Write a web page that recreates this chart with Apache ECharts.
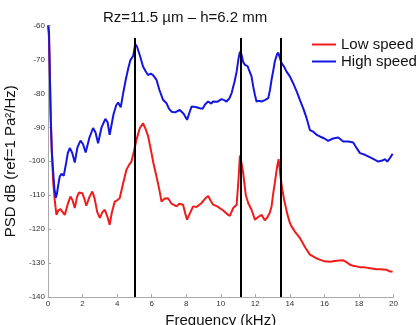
<!DOCTYPE html>
<html>
<head>
<meta charset="utf-8">
<script src="https://cdn.jsdelivr.net/npm/echarts@6/dist/echarts.min.js"></script>
<style>
  html, body { margin: 0; padding: 0; background: #fff; }
  #chart { width: 419px; height: 325px; }
</style>
</head>
<body>
<div id="chart"></div>
<script>
// frequency in kHz, PSD in dB
var lowFreq = [0, 0.05, 0.1, 0.15, 0.22, 0.3, 0.4, 0.49, 0.6, 0.72, 0.85, 0.97, 1.15, 1.3, 1.42, 1.55, 1.68, 1.8, 1.99, 2.1, 2.22, 2.4, 2.57, 2.7, 2.85, 3.0, 3.15, 3.29, 3.45, 3.57, 3.7, 3.86, 4.0, 4.15, 4.35, 4.54, 4.7, 4.83, 4.98, 5.12, 5.31, 5.5, 5.65, 5.79, 5.95, 6.1, 6.28, 6.45, 6.57, 6.75, 6.95, 7.15, 7.44, 7.6, 7.82, 7.95, 8.05, 8.2, 8.4, 8.6, 8.89, 9.1, 9.27, 9.4, 9.56, 9.8, 10.14, 10.35, 10.53, 10.72, 10.92, 11.02, 11.11, 11.2, 11.3, 11.45, 11.59, 11.78, 11.98, 12.15, 12.36, 12.55, 12.7, 12.84, 12.94, 13.05, 13.13, 13.25, 13.35, 13.45, 13.55, 13.67, 13.85, 14.0, 14.1, 14.3, 14.58, 14.9, 15.16, 15.26, 15.5, 15.74, 16.0, 16.32, 16.7, 17.09, 17.3, 17.48, 17.67, 18.06, 18.25, 18.64, 19.03, 19.22, 19.61, 19.8, 19.95];
var lowDb = [-60, -63, -72, -85, -97, -106, -112, -115.8, -114.5, -114.1, -115, -115.8, -112.5, -110.4, -111.5, -113.8, -110.5, -109.2, -109.4, -111, -113.1, -110.5, -108.9, -111, -115, -116.7, -115, -114.3, -116.5, -118.7, -115, -111.9, -111.5, -110.9, -106.5, -102.5, -101, -100.1, -97, -93.7, -90.3, -88.8, -90.5, -92.5, -96.5, -100.5, -104.5, -108.5, -111.9, -111, -110.9, -112.5, -113.3, -112.5, -112.8, -115.5, -117.2, -115.5, -113.3, -113.5, -112.3, -111, -110.2, -111.5, -112.8, -113.3, -114.5, -115.5, -116.1, -113.8, -112.8, -106, -98.3, -100.5, -103.5, -110, -112.3, -114.3, -117.2, -116.5, -115.8, -117.4, -116.5, -115.2, -113.3, -109, -106.4, -102, -99.4, -104, -108, -111.4, -115.5, -118.2, -119.2, -120.8, -122.6, -125.5, -127.5, -128, -128.5, -129, -129.5, -129.6, -129.3, -129.2, -129.8, -130.5, -130.8, -131.2, -131.2, -131.5, -131.8, -131.8, -132, -132.5, -132.5];

var highFreq = [0.02, 0.06, 0.12, 0.16, 0.22, 0.29, 0.37, 0.45, 0.52, 0.58, 0.68, 0.78, 0.91, 1.05, 1.15, 1.26, 1.4, 1.55, 1.7, 1.88, 2.03, 2.18, 2.4, 2.61, 2.75, 2.9, 3.1, 3.32, 3.45, 3.57, 3.8, 3.95, 4.06, 4.21, 4.35, 4.5, 4.65, 4.77, 4.93, 5.05, 5.15, 5.31, 5.5, 5.65, 5.79, 5.95, 6.08, 6.28, 6.45, 6.66, 6.86, 7.0, 7.15, 7.35, 7.63, 7.85, 8.05, 8.2, 8.31, 8.55, 8.79, 8.95, 9.1, 9.27, 9.45, 9.56, 9.8, 10.04, 10.2, 10.33, 10.5, 10.63, 10.8, 10.92, 11.02, 11.11, 11.2, 11.3, 11.4, 11.55, 11.65, 11.78, 11.88, 11.98, 12.07, 12.2, 12.36, 12.55, 12.75, 12.85, 12.94, 13.05, 13.13, 13.25, 13.33, 13.42, 13.52, 13.65, 13.81, 14.0, 14.19, 14.4, 14.58, 14.78, 14.97, 15.16, 15.35, 15.55, 15.74, 16.0, 16.22, 16.5, 16.8, 17.09, 17.4, 17.67, 17.85, 18.06, 18.35, 18.74, 19.12, 19.35, 19.51, 19.64, 19.8, 19.95];
var highDb = [-60, -62, -78, -88, -97, -102.5, -108, -110.8, -109.5, -107.4, -104.5, -103.7, -104.3, -100.5, -97.5, -96.1, -97.5, -100.4, -96, -93.9, -95, -97.4, -93, -90.2, -91.5, -94.7, -90, -87.5, -88.5, -92.2, -86, -83.5, -82.7, -84.1, -80, -76, -72.5, -70.2, -69, -65.5, -66.2, -68.7, -72.1, -73.5, -74.6, -74.2, -74.6, -76, -79, -81.9, -82.9, -84.5, -85.4, -85.6, -84.9, -86, -87.8, -85.5, -83.9, -84, -84.4, -84.5, -83.2, -82.4, -83, -82.4, -82.5, -81.7, -82, -82.4, -81.5, -79.9, -76.5, -73.6, -70, -67.7, -68.5, -70.8, -71.6, -72, -72.1, -75, -78, -80.5, -82.4, -82.2, -82.4, -82, -81.4, -79, -76, -73, -70.6, -68.6, -68, -69.5, -71.1, -72, -73.6, -75, -77, -79.5, -81.9, -84.5, -87.3, -90.8, -91.3, -92.2, -92.7, -93.3, -94, -93.3, -93, -94.2, -94.2, -94.5, -96, -97.6, -98.1, -99.1, -100.1, -99.8, -99.4, -100.1, -99, -97.8];

// black vertical marker lines
var markerFreqs = [5.0, 11.15, 13.5];
var markerTop = -63.7;

var xTicks = { min: 0, max: 20, step: 2 };
var yTicks = { min: -140, max: -60, step: 10 };

var font = 'Liberation Sans, Arial, sans-serif';

function pairs(xs, ys) {
  return xs.map(function (x, i) { return [x, ys[i]]; });
}

var myChart = echarts.init(document.getElementById('chart'));

var option = {
  animation: false,
  backgroundColor: '#fff',
  textStyle: { fontFamily: font },
  title: {
    text: 'Rz=11.5 µm – h=6.2 mm',
    left: 103,
    top: 10,
    padding: 0,
    textStyle: { fontFamily: font, fontSize: 15, fontWeight: 'normal', color: '#111' }
  },
  legend: {
    orient: 'vertical',
    left: 312,
    top: 37,
    padding: 0,
    itemGap: 2,
    itemWidth: 24,
    itemHeight: 2,
    icon: 'rect',
    data: ['Low speed', 'High speed'],
    textStyle: { fontFamily: font, fontSize: 15, color: '#111', lineHeight: 15 }
  },
  grid: { left: 48, right: 25.5, top: 25.5, bottom: 28, outerBoundsMode: 'none' },
  xAxis: {
    type: 'value',
    min: xTicks.min,
    max: xTicks.max,
    interval: xTicks.step,
    name: 'Frequency (kHz)',
    nameLocation: 'middle',
    nameGap: 15,
    nameTextStyle: { fontFamily: font, fontSize: 15, color: '#111' },
    splitLine: { show: false },
    axisLine: { lineStyle: { color: '#aaa', width: 1 } },
    axisTick: { inside: true, length: 3, lineStyle: { color: '#aaa' } },
    axisLabel: { fontSize: 8, color: '#333', margin: 3, fontFamily: font }
  },
  yAxis: {
    type: 'value',
    min: yTicks.min,
    max: yTicks.max,
    interval: yTicks.step,
    name: 'PSD dB (ref=1 Pa²/Hz)',
    nameLocation: 'middle',
    nameGap: 27,
    nameTextStyle: { fontFamily: font, fontSize: 15, color: '#111' },
    splitLine: { show: false },
    axisLine: { show: true, lineStyle: { color: '#aaa', width: 1 } },
    axisTick: { show: true, inside: true, length: 3, lineStyle: { color: '#aaa' } },
    axisLabel: { fontSize: 8, color: '#333', margin: 3, fontFamily: font }
  },
  series: [
    {
      name: 'Low speed',
      type: 'line',
      data: pairs(lowFreq, lowDb),
      symbol: 'none',
      z: 3,
      color: '#f01c1c',
      lineStyle: { width: 2, color: '#f01c1c' },
      markLine: {
        silent: true,
        symbol: 'none',
        label: { show: false },
        lineStyle: { color: '#000', width: 2, type: 'solid' },
        data: markerFreqs.map(function (f) {
          return [{ coord: [f, yTicks.min] }, { coord: [f, markerTop] }];
        })
      }
    },
    {
      name: 'High speed',
      type: 'line',
      data: pairs(highFreq, highDb),
      symbol: 'none',
      z: 3,
      color: '#1515e0',
      lineStyle: { width: 2, color: '#1515e0' }
    }
  ]
};

myChart.setOption(option);
</script>
</body>
</html>
